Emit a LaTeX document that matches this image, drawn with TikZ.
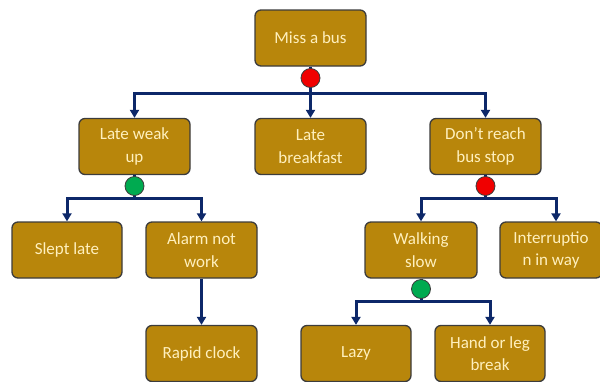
\documentclass[tikz,border=0pt]{standalone}
\usepackage{fontspec}
\setmainfont{Carlito}
\usetikzlibrary{arrows.meta}
\definecolor{boxfill}{RGB}{184,134,11}
\definecolor{boxedge}{RGB}{60,60,60}
\definecolor{boxtext}{RGB}{255,240,190}
\definecolor{navy}{RGB}{13,40,105}
\definecolor{redc}{RGB}{240,0,0}
\definecolor{greenc}{RGB}{0,170,80}
\tikzset{
  box/.style={draw=boxedge, line width=1.3pt, fill=boxfill, rounded corners=6pt,
    minimum width=111pt, minimum height=56pt, inner sep=2pt, align=center,
    text=boxtext, font=\fontsize{17}{22.5}\selectfont},
  dot/.style={circle, draw=boxedge, line width=0.8pt, minimum size=19pt, inner sep=0pt},
  conn/.style={draw=navy, line width=3pt},
  arr/.style={conn, -{Triangle[width=9pt,length=8pt]}},
}
\begin{document}
\begin{tikzpicture}[x=1pt,y=-1pt]
\useasboundingbox (0,0) rectangle (600,381);
% boxes
\node[box] (miss) at (310.5,38) {Miss a bus};
\node[box] (late) at (134.5,146.5) {Late weak\\up};
\node[box] (brk) at (310.5,146.5) {Late\\breakfast};
\node[box] (dont) at (485.5,146.5) {Don’t reach\\bus stop};
\node[box, minimum width=110pt] (slept) at (67,250) {Slept late};
\node[box] (alarm) at (201.5,250) {Alarm not\\work};
\node[box] (rapid) at (201.5,353.5) {Rapid clock};
\node[box, minimum width=112pt] (walk) at (421,250) {Walking\\slow};
\node[box, minimum width=102pt] (intr) at (551,250) {Interruptio\\n in way};
\node[box, minimum width=110pt] (lazy) at (356,353.5) {Lazy};
\node[box, minimum width=110pt] (hand) at (490,353.5) {Hand or leg\\break};
% junction coordinates
\coordinate (b1) at (310.5,93);
\coordinate (b2) at (134.5,198);
\coordinate (b3) at (485.5,198);
\coordinate (b4) at (421,301);
% connectors
\draw[conn] (miss.south) -- (b1);
\draw[arr] (b1) -| (late.north);
\draw[arr] (b1) -| (dont.north);
\draw[arr] (b1) -- (brk.north);
\draw[conn] (late.south) -- (b2);
\draw[arr] (b2) -| (slept.north);
\draw[arr] (b2) -| (alarm.north);
\draw[arr] (alarm.south) -- (rapid.north);
\draw[conn] (dont.south) -- (b3);
\draw[arr] (b3) -| (walk.north);
\draw[arr] (b3) -| ([xshift=5pt]intr.north);
\draw[conn] (walk.south) -- (b4);
\draw[arr] (b4) -| (lazy.north);
\draw[arr] (b4) -| (hand.north);
% junction dots
\node[dot, fill=redc] (d1) at (310.5,78) {};
\node[dot, fill=greenc] (d2) at (134.5,186) {};
\node[dot, fill=redc] (d3) at (485.5,186) {};
\node[dot, fill=greenc] (d4) at (421,289) {};
\end{tikzpicture}
\end{document}
